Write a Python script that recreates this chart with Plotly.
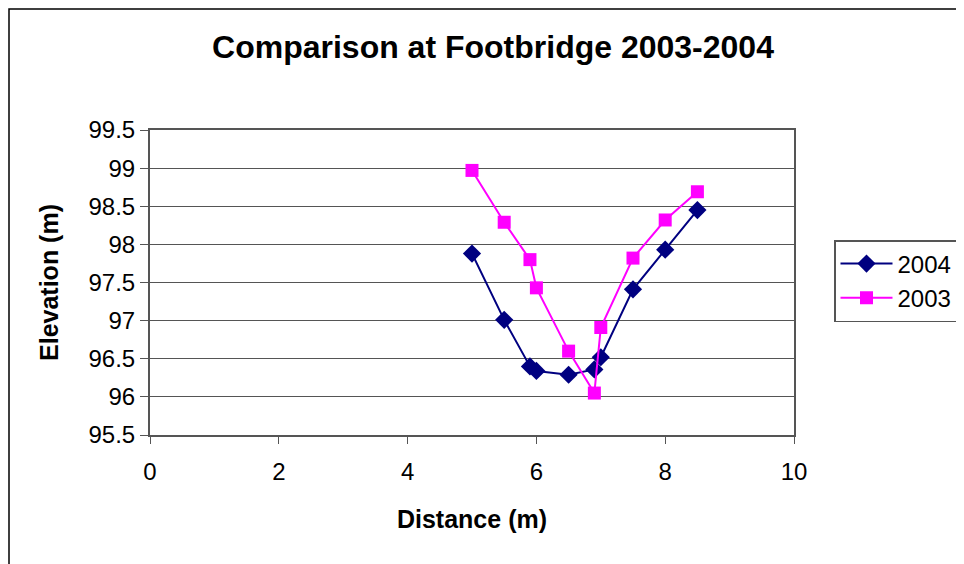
import plotly.graph_objects as go

# --- data ---
dist_2004 = [5.0, 5.5, 5.9, 6.0, 6.5, 6.9, 7.0, 7.5, 8.0, 8.5]
elev_2004 = [97.88, 97.01, 96.40, 96.34, 96.29, 96.36, 96.52, 97.41, 97.93, 98.45]

dist_2003 = [5.0, 5.5, 5.9, 6.0, 6.5, 6.9, 7.0, 7.5, 8.0, 8.5]
elev_2003 = [98.97, 98.29, 97.80, 97.43, 96.60, 96.05, 96.91, 97.82, 98.32, 98.69]

FONT = "Arial, Liberation Sans, sans-serif"

fig = go.Figure()

fig.add_trace(go.Scatter(
    x=dist_2004, y=elev_2004, mode="lines+markers", name="2004",
    line=dict(color="#000080", width=2),
    marker=dict(symbol="diamond", size=14, color="#000080"),
))
fig.add_trace(go.Scatter(
    x=dist_2003, y=elev_2003, mode="lines+markers", name="2003",
    line=dict(color="#FF00FF", width=2),
    marker=dict(symbol="square", size=13, color="#FF00FF"),
))

# outer chart border (Excel-style chart area); page has an 8px body offset
fig.add_shape(type="rect", xref="paper", yref="paper",
              x0=(9 - 150) / 644, x1=(990 - 150) / 644,
              y0=-(590 - 435) / 305, y1=1 + (130 - 9) / 305,
              line=dict(color="#000000", width=1.5), layer="below")

fig.update_layout(
    width=956, height=556,
    margin=dict(l=142, r=170, t=122, b=129, autoexpand=False),
    paper_bgcolor="white", plot_bgcolor="white",
    font=dict(family=FONT, size=24, color="black"),
    title=dict(text="<b>Comparison at Footbridge 2003-2004</b>",
               font=dict(size=32, family=FONT, color="black"),
               x=(493 - 150) / 644, xref="paper", xanchor="center",
               y=1 - 39 / 556, yanchor="middle"),
    showlegend=True,
    legend=dict(x=(834 - 150) / 644, y=(435 - 240) / 305,
                xanchor="left", yanchor="top",
                bordercolor="#555555", borderwidth=1.5,
                font=dict(size=24, family=FONT),
                itemwidth=52,
                bgcolor="white", tracegroupgap=0),
    xaxis=dict(range=[0, 10], dtick=2, tick0=0,
               showgrid=False, zeroline=False,
               showline=True, linecolor="#555555", linewidth=2, mirror=True,
               ticks="outside", ticklen=7, tickcolor="#555555",
               ticklabelstandoff=7,
               title=dict(text="<b>Distance (m)</b>", font=dict(size=25), standoff=27)),
    yaxis=dict(range=[95.5, 99.5], dtick=0.5, tick0=95.5,
               showgrid=True, gridcolor="#555555", gridwidth=1, zeroline=False,
               showline=True, linecolor="#555555", linewidth=2, mirror=True,
               ticks="outside", ticklen=8, tickcolor="#555555",
               title=dict(text="<b>Elevation (m)</b>", font=dict(size=25), standoff=23)),
)

fig.write_html("out.html")
